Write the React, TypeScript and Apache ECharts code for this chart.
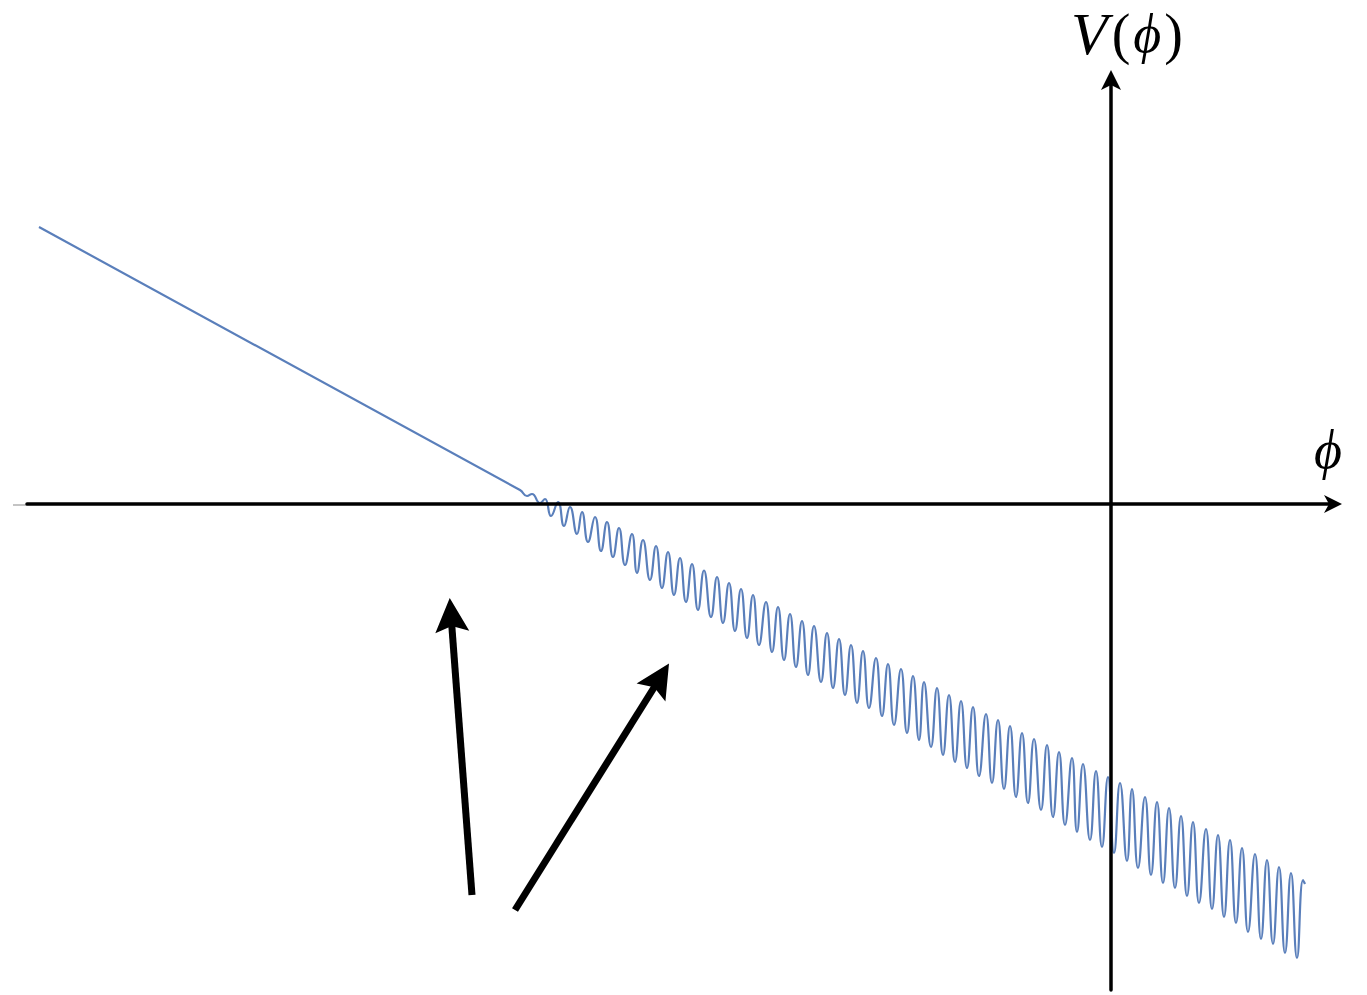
import { useEffect, useRef } from 'react';
import * as echarts from 'echarts';

// Extrema of the potential curve (phi, V)
const PHI = [
  -107.2, -59.1, -58.4, -57.9, -57.1, -56.6, -56.0, -55.3, -54.7, -54.1,
  -53.4, -52.9, -52.3, -51.6, -51.0, -50.4, -49.8, -49.2, -48.6, -47.9,
  -47.4, -46.8, -46.1, -45.5, -44.9, -44.3, -43.7, -43.1, -42.5, -41.9,
  -41.3, -40.7, -40.0, -39.4, -38.8, -38.2, -37.6, -37.0, -36.4, -35.8,
  -35.2, -34.5, -33.9, -33.3, -32.7, -32.1, -31.5, -30.9, -30.3, -29.7,
  -29.0, -28.4, -27.8, -27.2, -26.6, -26.0, -25.4, -24.8, -24.2, -23.5,
  -22.9, -22.3, -21.7, -21.0, -20.4, -19.8, -19.2, -18.7, -18.0, -17.4,
  -16.8, -16.2, -15.6, -15.0, -14.4, -13.8, -13.2, -12.5, -11.9, -11.3,
  -10.7, -10.1, -9.5, -8.9, -8.3, -7.7, -7.0, -6.4, -5.8, -5.2,
  -4.6, -3.9, -3.4, -2.8, -2.1, -1.5, -0.9, -0.3, 0.3, 0.9,
  1.6, 2.1, 2.7, 3.4, 4.0, 4.6, 5.2, 5.8, 6.4, 7.0,
  7.6, 8.2, 8.8, 9.5, 10.1, 10.7, 11.3, 11.9, 12.5, 13.1,
  13.7, 14.4, 15.0, 15.6, 16.2, 16.8, 17.4, 18.0, 18.6, 19.2, 19.4,
];
const V = [
  27.7, 1.4, 0.8, 1.0, 0.1, 0.5, -1.2, 0.2, -2.2, -0.3,
  -3.0, -0.8, -3.8, -1.3, -4.7, -1.8, -5.3, -2.4, -6.1, -3.0,
  -6.9, -3.6, -7.6, -4.2, -8.4, -4.8, -9.1, -5.4, -9.8, -6.0,
  -10.6, -6.65, -11.3, -7.3, -11.9, -7.9, -12.7, -8.5, -13.4, -9.1,
  -14.1, -9.8, -14.8, -10.3, -15.6, -11.0, -16.3, -11.7, -17.1, -12.2,
  -17.8, -12.9, -18.4, -13.5, -19.1, -14.1, -19.9, -14.7, -20.4, -15.4,
  -21.2, -16.0, -22.1, -16.5, -22.9, -17.2, -23.6, -17.8, -24.3, -18.4,
  -25.1, -19.1, -25.8, -19.7, -26.4, -20.3, -27.2, -21.0, -27.9, -21.6,
  -28.5, -22.2, -29.3, -22.9, -29.9, -23.5, -30.6, -24.1, -31.3, -24.8,
  -32.1, -25.4, -32.8, -26.0, -33.6, -26.7, -34.3, -27.3, -34.9, -27.9,
  -35.7, -28.5, -36.4, -29.3, -37.1, -29.8, -37.9, -30.4, -38.4, -31.2,
  -39.2, -31.8, -39.9, -32.5, -40.5, -33.1, -41.3, -33.6, -41.9, -34.4,
  -42.8, -35.0, -43.5, -35.6, -44.0, -36.3, -44.9, -36.9, -45.4, -37.6, -38.0,
];

// Annotation arrows (tail -> head), in axis units
const ARROW_TAILS = [
  [-63.9, -39.1],
  [-59.6, -40.6],
];
const ARROW_HEADS = [
  [-66.0, -11.1],
  [-45.1, -17.4],
];

const X_MIN = -108.4;
const X_MAX = 22.2;
const Y_MIN = -48.6;
const Y_MAX = 42.4;

const X_LABEL = 'ϕ';
const Y_LABEL = '{v|V}{u|(}{i|ϕ}{u|)}';

const SERIF = "'Liberation Serif', 'DejaVu Serif', 'Times New Roman', serif";

export default function App() {
  const ref = useRef<HTMLDivElement>(null);

  useEffect(() => {
    const chart = echarts.init(ref.current!, null, { renderer: 'svg' });
    chart.setOption({
      animation: false,
      backgroundColor: '#ffffff',
      grid: { left: 27, right: 34, top: 80, bottom: 5, containLabel: false, outerBoundsMode: 'none' },
      xAxis: {
        type: 'value',
        min: X_MIN,
        max: X_MAX,
        z: 5,
        axisLine: {
          show: true,
          onZero: true,
          lineStyle: { color: '#000', width: 3.5 },
          symbol: ['none', 'path://M9,0 L18,18 L9,13 L0,18 Z'],
          symbolSize: [18, 18],
        },
        axisTick: { show: false },
        axisLabel: { show: false },
        splitLine: { show: false },
      },
      yAxis: {
        type: 'value',
        min: Y_MIN,
        max: Y_MAX,
        z: 5,
        axisLine: {
          show: true,
          onZero: true,
          lineStyle: { color: '#000', width: 3.5 },
          symbol: ['none', 'path://M10,0 L20,20 L10,15 L0,20 Z'],
          symbolSize: [20, 20],
        },
        axisTick: { show: false },
        axisLabel: { show: false },
        splitLine: { show: false },
      },
      graphic: [
        {
          type: 'line',
          shape: { x1: 13, y1: 505, x2: 27, y2: 505 },
          style: { stroke: '#b0b0b0', lineWidth: 1.5 },
          silent: true,
        },
        {
          type: 'text',
          x: 1127,
          y: 34,
          style: {
            text: Y_LABEL,
            align: 'center',
            verticalAlign: 'middle',
            fill: '#000',
            rich: {
              v: { fontFamily: SERIF, fontStyle: 'italic', fontSize: 60, fill: '#000', padding: [0, 4, 0, 0] },
              i: { fontFamily: SERIF, fontStyle: 'italic', fontSize: 54, fill: '#000', padding: [0, 3, 0, 3] },
              u: { fontFamily: SERIF, fontStyle: 'normal', fontSize: 56, fill: '#000' },
            },
          },
        },
        {
          type: 'text',
          x: 1328,
          y: 450,
          style: {
            text: X_LABEL,
            align: 'center',
            verticalAlign: 'middle',
            fontFamily: SERIF,
            fontStyle: 'italic',
            fontSize: 54,
            fill: '#000',
          },
        },
      ],
      series: [
        {
          type: 'line',
          data: PHI.map((p, i) => [p, V[i]]),
          smooth: 0.5,
          showSymbol: false,
          symbol: 'none',
          clip: false,
          z: 2,
          lineStyle: { color: '#5a7fbb', width: 2.2 },
        },
        {
          type: 'lines',
          coordinateSystem: 'cartesian2d',
          xAxisIndex: 0,
          yAxisIndex: 0,
          silent: true,
          z: 3,
          symbol: ['none', 'path://M17,0 L34,34 L17,28 L0,34 Z'],
          symbolSize: [0, 34],
          lineStyle: { color: '#000', width: 7, opacity: 1, curveness: 0 },
          data: ARROW_TAILS.map((t, i) => ({ coords: [t, ARROW_HEADS[i]] })),
        },
      ],
    });
    return () => chart.dispose();
  }, []);

  return (
    <div
      ref={ref}
      style={{ position: 'fixed', left: 0, top: 0, width: 1367, height: 995, background: '#fff' }}
    />
  );
}
